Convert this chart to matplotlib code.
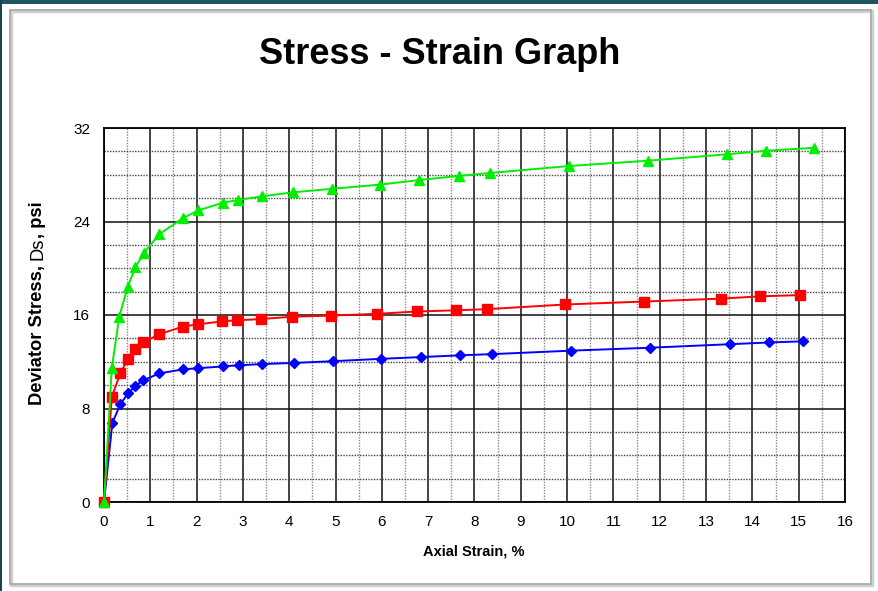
import matplotlib
matplotlib.use("Agg")
import matplotlib.pyplot as plt
from matplotlib.patches import Rectangle
from matplotlib.ticker import MultipleLocator
from matplotlib import font_manager

# ---- data ----
green_x = [0, 0.17, 0.33, 0.51, 0.68, 0.86, 1.19, 1.71, 2.04, 2.56, 2.90, 3.41, 4.09,
           4.93, 5.95, 6.81, 7.66, 8.34, 10.05, 11.74, 13.45, 14.30, 15.32]
green_y = [0, 11.5, 15.85, 18.4, 20.1, 21.3, 22.9, 24.3, 24.95, 25.6, 25.85, 26.15, 26.5,
           26.8, 27.15, 27.55, 27.9, 28.15, 28.75, 29.2, 29.75, 30.05, 30.3]

red_x = [0, 0.17, 0.35, 0.51, 0.68, 0.85, 1.19, 1.70, 2.02, 2.54, 2.87, 3.38, 4.05,
         4.90, 5.90, 6.75, 7.59, 8.27, 9.96, 11.65, 13.33, 14.17, 15.02]
red_y = [0, 9.0, 11.0, 12.2, 13.05, 13.65, 14.35, 15.0, 15.2, 15.45, 15.55, 15.65, 15.85,
         15.95, 16.1, 16.3, 16.4, 16.5, 16.9, 17.15, 17.4, 17.6, 17.7]

blue_x = [0, 0.18, 0.35, 0.52, 0.68, 0.85, 1.19, 1.71, 2.04, 2.57, 2.91, 3.41, 4.10,
          4.95, 5.99, 6.84, 7.69, 8.37, 10.09, 11.79, 13.51, 14.36, 15.10]
blue_y = [0, 6.75, 8.35, 9.3, 9.95, 10.4, 11.0, 11.35, 11.45, 11.6, 11.7, 11.8, 11.9,
          12.05, 12.25, 12.4, 12.55, 12.65, 12.95, 13.2, 13.5, 13.65, 13.75]

x_ticks = list(range(0, 17))
y_ticks = [0, 8, 16, 24, 32]

title = "Stress - Strain Graph"
xlabel = "Axial Strain, %"

# ---- fonts ----
avail = {f.name for f in font_manager.fontManager.ttflist}
narrow = "Liberation Sans Narrow" if "Liberation Sans Narrow" in avail else "Liberation Sans"
main = "Liberation Sans"

W, H = 879, 591
fig = plt.figure(figsize=(W / 100, H / 100), dpi=100)
fig.patch.set_facecolor("white")

def px(x0, y0, w, h):
    return (x0 / W, 1 - (y0 + h) / H, w / W, h / H)

# slide background strips
fig.patches.append(Rectangle(px(0, 0, W, 4)[:2], 1, 4 / H, transform=fig.transFigure,
                             facecolor="#1f5560", edgecolor="none", zorder=0))
fig.patches.append(Rectangle((0, 0), 2.5 / W, 1, transform=fig.transFigure,
                             facecolor="#1a4452", edgecolor="none", zorder=0))
# panel border with slight shadow
fig.patches.append(Rectangle(px(11, 11, 861, 574)[:2], 861 / W, 574 / H, transform=fig.transFigure,
                             facecolor="none", edgecolor="#d0d0d0", linewidth=2.5, zorder=0))
fig.patches.append(Rectangle(px(10, 10, 861, 574)[:2], 861 / W, 574 / H, transform=fig.transFigure,
                             facecolor="none", edgecolor="#a8a8a8", linewidth=1.2, zorder=1))

ax = fig.add_axes([104 / W, 1 - 502 / H, (845 - 104) / W, (502 - 128) / H])
ax.set_xlim(0, 16)
ax.set_ylim(0, 32)
ax.xaxis.set_major_locator(MultipleLocator(1))
ax.xaxis.set_minor_locator(MultipleLocator(0.5))
ax.yaxis.set_major_locator(MultipleLocator(8))
ax.yaxis.set_minor_locator(MultipleLocator(2))
ax.set_xticks(x_ticks)
ax.set_yticks(y_ticks)

ax.grid(which="major", axis="both", color="#111111", linewidth=1.1, linestyle="-", zorder=1)
ax.grid(which="minor", axis="x", color="#8a8a8a", linewidth=1.0, linestyle=(0, (1, 1)), zorder=1)
ax.grid(which="minor", axis="y", color="#444444", linewidth=1.0, linestyle=(0, (1, 1)), zorder=1)
ax.set_axisbelow(True)

for s in ax.spines.values():
    s.set_color("black")
    s.set_linewidth(1.3)

ax.tick_params(which="both", length=0)
ax.tick_params(axis="x", pad=9)
ax.tick_params(axis="y", pad=10)
for lab in ax.get_xticklabels() + ax.get_yticklabels():
    lab.set_fontfamily(narrow)
    lab.set_fontsize(11)

ax.plot(blue_x, blue_y, color="#0000ff", linewidth=1.4, marker="D", markersize=4.8,
        clip_on=False, zorder=3)
ax.plot(red_x, red_y, color="#ff0000", linewidth=1.4, marker="s", markersize=6.8,
        clip_on=False, zorder=4)
ax.plot(green_x, green_y, color="#00ee00", linewidth=1.4, marker="^", markersize=7,
        clip_on=False, zorder=5)

fig.text(440 / W, 1 - 54 / H, title, ha="center", va="center", fontsize=26,
         fontweight="bold", family=main)
fig.text(474 / W, 1 - 552 / H, xlabel, ha="center", va="center", fontsize=10.5,
         fontweight="bold", family=narrow)

# y label in three pieces (bold / regular / bold)
ysize = 13.2
t1 = fig.text(38 / W, 1 - 405 / H, "Deviator Stress, ", rotation=90, ha="center", va="bottom",
              fontsize=ysize, fontweight="bold", family=main)
t2 = ax.annotate("Ds", xy=(0, 1), xycoords=t1, rotation=90, ha="left", va="bottom",
                 fontsize=ysize, fontweight="normal", family=main, annotation_clip=False)
t3 = ax.annotate(", psi", xy=(0, 1), xycoords=t2, rotation=90, ha="left", va="bottom",
                 fontsize=ysize, fontweight="bold", family=main, annotation_clip=False)

fig.savefig("out.png", dpi=100, facecolor=fig.get_facecolor())
